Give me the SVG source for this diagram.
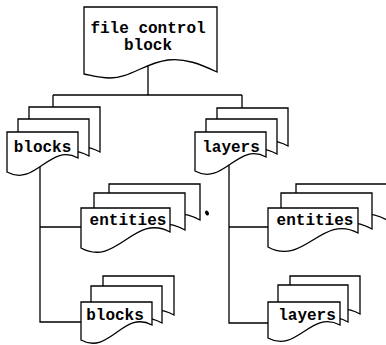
<svg xmlns="http://www.w3.org/2000/svg" width="386" height="345" viewBox="0 0 386 345">
<style>
.pg{fill:#fff;stroke:#000;stroke-width:1.3;stroke-linejoin:miter}
.cn{fill:none;stroke:#000;stroke-width:1.3}
text{font-family:"Liberation Mono","Courier New",monospace;font-weight:bold;font-size:16px;fill:#000;text-anchor:middle}
</style>
<rect width="386" height="345" fill="#fff"/>
<g id="connectors">
<path class="cn" d="M148,60 V95 M53,95 H242 M53,95 V110 M242,95 V110"/>
<path class="cn" d="M40,160 V322 H85 M40,227 H85"/>
<path class="cn" d="M229,160 V323 H272 M229,227 H272"/>
</g>
<g id="file-control-block">
<path class="pg" d="M84,7 H217 V72 C200,64 185,58 168,60 C145,63 130,78 110,78 C98,78 90,75 84,74 Z"/>
<text x="148" y="33">file control</text>
<text x="148" y="50">block</text>
</g>
<g id="blocks-top">
<path class="pg" d="M29,107 H100 V152 C71.6,136.4 57.4,162.6 29,147 Z"/>
<path class="pg" d="M18,119 H89 V156 C60.6,140.4 46.4,166.6 18,151 Z"/>
<path class="pg" d="M7,132 H78 V158 C49.6,142.4 35.4,187.6 7,172 Z"/>
<text x="42.5" y="152">blocks</text>
</g>
<g id="layers-top">
<path class="pg" d="M217,108 H288 V146 C259.6,130.4 245.4,156.6 217,141 Z"/>
<path class="pg" d="M206,119 H277 V154 C248.6,138.4 234.4,164.6 206,149 Z"/>
<path class="pg" d="M195,132 H266 V157 C237.6,141.4 223.4,186.6 195,171 Z"/>
<text x="231" y="152">layers</text>
</g>
<g id="entities-left">
<path class="pg" d="M109,184 H200 V220 C163.6,200 145.4,235 109,215 Z"/>
<path class="pg" d="M94,193 H185 V230 C148.6,210 130.4,245 94,225 Z"/>
<path class="pg" d="M81,208 H170 V232 C134.4,212.4 116.6,267.6 81,248 Z"/>
<text x="128" y="225">entities</text>
</g>
<g id="entities-right">
<path class="pg" d="M296,184 H387 V220 C350.6,200 332.4,235 296,215 Z"/>
<path class="pg" d="M281,193 H372 V229 C335.6,209 317.4,244 281,224 Z"/>
<path class="pg" d="M268,208 H358 V233 C322,213.2 304,266.8 268,247 Z"/>
<text x="315" y="225">entities</text>
</g>
<g id="blocks-bottom">
<path class="pg" d="M103,276 H174 V315 C145.6,299.4 131.4,325.6 103,310 Z"/>
<path class="pg" d="M91,286 H162 V323 C133.6,307.4 119.4,333.6 91,318 Z"/>
<path class="pg" d="M81,302 H152 V325 C123.6,309.4 109.4,355.6 81,340 Z"/>
<text x="115" y="320">blocks</text>
</g>
<g id="layers-bottom">
<path class="pg" d="M290,276 H360 V314 C332,298.6 318,324.4 290,309 Z"/>
<path class="pg" d="M278,285 H348 V322 C320,306.6 306,332.4 278,317 Z"/>
<path class="pg" d="M268,302 H340 V325 C311.2,309.2 296.8,353.8 268,338 Z"/>
<text x="307" y="320">layers</text>
</g>
<ellipse cx="207" cy="213" rx="1.8" ry="2.6" transform="rotate(-30 207 213)" fill="#000"/>
</svg>
